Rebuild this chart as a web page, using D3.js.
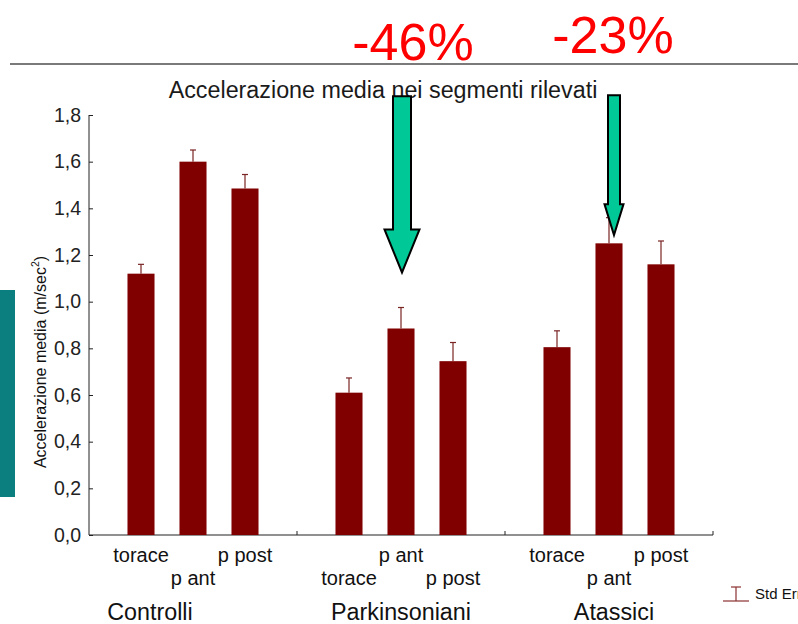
<!DOCTYPE html>
<html>
<head>
<meta charset="utf-8">
<script src="https://cdn.jsdelivr.net/npm/d3@7/dist/d3.min.js"></script>
<style>
  html, body { margin: 0; padding: 0; background: #fff; }
  svg { display: block; font-family: "Liberation Sans", Arial, sans-serif; }
</style>
</head>
<body>
<svg id="chart" width="798" height="624"></svg>
<script>
// Groups, segments and measured means (m/sec^2) with standard errors
const groups = ["Controlli", "Parkinsoniani", "Atassici"];
const segments = ["torace", "p ant", "p post"];
const controlli = [1.12, 1.60, 1.485];
const parkinsoniani = [0.61, 0.885, 0.745];
const atassici = [0.805, 1.25, 1.16];
const errControlli = [0.04, 0.05, 0.06];
const errParkinsoniani = [0.063, 0.09, 0.08];
const errAtassici = [0.07, 0.11, 0.10];
const yTicks = [0, 0.2, 0.4, 0.6, 0.8, 1.0, 1.2, 1.4, 1.6, 1.8];
const changeLabels = ["-46%", "-23%"];
const changeGroups = ["Parkinsoniani", "Atassici"];

const means = [controlli, parkinsoniani, atassici];
const errs = [errControlli, errParkinsoniani, errAtassici];
const rows = [];
groups.forEach((g, gi) => segments.forEach((s, si) => {
  rows.push({ group: g, seg: s, si, value: means[gi][si], err: errs[gi][si] });
}));

const svg = d3.select("#chart");
const maroon = "#800000";

// Plot area
const x0 = d3.scaleBand().domain(groups).range([89, 713]).paddingInner(0).paddingOuter(0);
const x1 = d3.scaleBand().domain(segments).range([0, x0.bandwidth()]).paddingInner(0.48).paddingOuter(0.74);
const y = d3.scaleLinear().domain([0, 1.8]).range([535, 115]);

// Decorative side strip and top rule
svg.append("rect").attr("x", 0).attr("y", 290).attr("width", 15).attr("height", 207).attr("fill", "#0b7f7f");
svg.append("line").attr("x1", 10).attr("x2", 798).attr("y1", 64).attr("y2", 64)
  .attr("stroke", "#7a7a7a").attr("stroke-width", 2);

// Y axis
const yAxis = d3.axisLeft(y).tickValues(yTicks).tickSize(-4).tickPadding(8)
  .tickFormat(d => d3.format(".1f")(d).replace(".", ","));
const gy = svg.append("g").attr("transform", "translate(89,0)").call(yAxis);
gy.select(".domain").attr("stroke", "#222").attr("d", "M0,115V535");
gy.selectAll(".tick line").attr("stroke", "#222");
gy.selectAll(".tick text").attr("font-size", 19.5).attr("fill", "#222")
  .attr("font-family", "Liberation Sans, Arial, sans-serif");

// X axis baseline with group separators
svg.append("line").attr("x1", 89).attr("x2", 713).attr("y1", 535).attr("y2", 535)
  .attr("stroke", "#222").attr("stroke-width", 1.2);
groups.forEach(g => {
  const xe = x0(g) + x0.bandwidth();
  svg.append("line").attr("x1", xe).attr("x2", xe).attr("y1", 535).attr("y2", 531)
    .attr("stroke", "#222");
});

// Bars
const gBars = svg.append("g");
gBars.selectAll("rect").data(rows).join("rect")
  .attr("x", d => x0(d.group) + x1(d.seg))
  .attr("y", d => y(d.value))
  .attr("width", x1.bandwidth())
  .attr("height", d => y(0) - y(d.value))
  .attr("fill", maroon);

// Error bars (upper whisker only)
const errColor = "#7a2424";
const gErr = svg.append("g").attr("stroke", errColor).attr("stroke-width", 1.2);
rows.forEach(d => {
  const cx = x0(d.group) + x1(d.seg) + x1.bandwidth() / 2;
  gErr.append("line").attr("x1", cx).attr("x2", cx).attr("y1", y(d.value)).attr("y2", y(d.value + d.err));
  gErr.append("line").attr("x1", cx - 3).attr("x2", cx + 3).attr("y1", y(d.value + d.err)).attr("y2", y(d.value + d.err));
});

// Segment labels, staggered on two rows
rows.forEach(d => {
  const cx = x0(d.group) + x1(d.seg) + x1.bandwidth() / 2;
  const gi = groups.indexOf(d.group);
  const low = (gi === 1) ? d.si !== 1 : d.si === 1;
  svg.append("text").attr("x", cx).attr("y", low ? 585 : 562)
    .attr("text-anchor", "middle").attr("font-size", 20).attr("fill", "#111")
    .text(d.seg);
});

// Group labels
const groupNudge = { "Controlli": -43, "Parkinsoniani": 0, "Atassici": 5 };
groups.forEach(g => {
  svg.append("text").attr("x", x0(g) + x0.bandwidth() / 2 + groupNudge[g]).attr("y", 620)
    .attr("text-anchor", "middle").attr("font-size", 23.3).attr("fill", "#111").text(g);
});

// Title
svg.append("text").attr("x", 383).attr("y", 98).attr("text-anchor", "middle")
  .attr("font-size", 23.3).attr("fill", "#1a1a1a").text("Accelerazione media nei segmenti rilevati");

// Y axis title
const yt = svg.append("text").attr("transform", "translate(46,362) rotate(-90)")
  .attr("text-anchor", "middle").attr("font-size", 16).attr("fill", "#111");
yt.append("tspan").text("Accelerazione media (m/sec");
yt.append("tspan").attr("font-size", 10.5).attr("dy", -7).text("2");
yt.append("tspan").attr("dy", 7).text(")");

// Arrows highlighting the p ant decrease
const arrowFrom = [1.88, 1.885];
const arrowTo = [1.125, 1.285];
const shaftW = [18, 12];
const headW = [35, 19];
const headL = [43, 31];
const arrowDx = [1, 5];
changeGroups.forEach((g, i) => {
  const cx = x0(g) + x1("p ant") + x1.bandwidth() / 2 + arrowDx[i];
  const top = y(arrowFrom[i]), tip = y(arrowTo[i]);
  const hs = tip - headL[i];
  const sw = shaftW[i] / 2, hw = headW[i] / 2;
  const path = `M${cx - sw},${top} L${cx + sw},${top} L${cx + sw},${hs} L${cx + hw},${hs} L${cx},${tip} L${cx - hw},${hs} L${cx - sw},${hs} Z`;
  svg.append("path").attr("d", path).attr("fill", "#00c896")
    .attr("stroke", "#000").attr("stroke-width", 2).attr("stroke-linejoin", "miter");
});

// Percentage changes
const changeX = [413, 613];
const changeY = [60, 53];
changeLabels.forEach((t, i) => {
  svg.append("text").attr("x", changeX[i]).attr("y", changeY[i]).attr("text-anchor", "middle")
    .attr("font-size", 52).attr("fill", "#ff0000").text(t);
});

// Legend
const lg = svg.append("g").attr("stroke", "#8a3030").attr("stroke-width", 1.2);
lg.append("line").attr("x1", 736).attr("x2", 736).attr("y1", 587).attr("y2", 601);
lg.append("line").attr("x1", 731).attr("x2", 741).attr("y1", 587).attr("y2", 587);
lg.append("line").attr("x1", 723).attr("x2", 749).attr("y1", 601).attr("y2", 601);
svg.append("text").attr("x", 755).attr("y", 599).attr("font-size", 15).attr("fill", "#111").text("Std Err");
</script>
</body>
</html>
